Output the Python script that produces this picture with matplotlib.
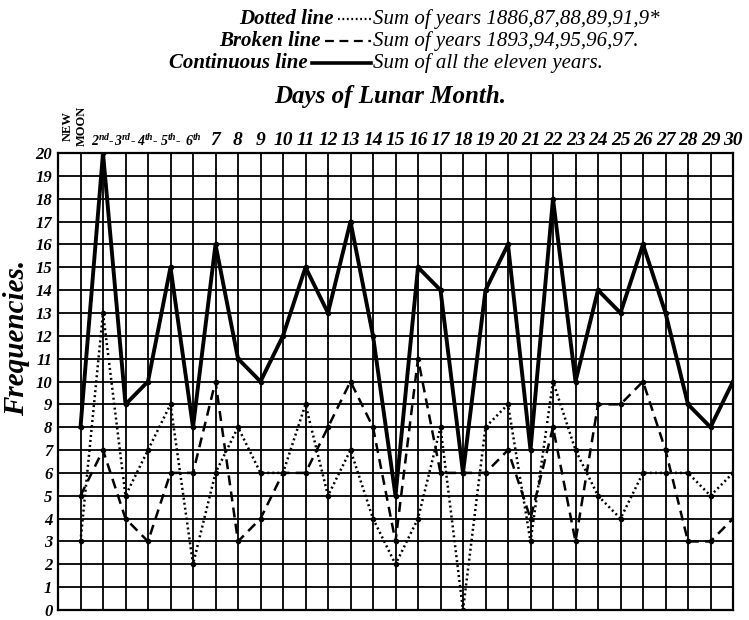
import matplotlib.pyplot as plt
from matplotlib.lines import Line2D

# Days of the lunar month (1 = New Moon)
days = list(range(1, 31))

# Sum of years 1886,87,88,89,91,92
dotted = [3, 13, 5, 7, 9, 2, 6, 8, 6, 6, 9, 5, 7, 4, 2,
          4, 8, 0, 8, 9, 3, 10, 7, 5, 4, 6, 6, 6, 5, 6]
# Sum of years 1893,94,95,96,97
broken = [5, 7, 4, 3, 6, 6, 10, 3, 4, 6, 6, 8, 10, 8, 3,
          11, 6, 6, 6, 7, 4, 8, 3, 9, 9, 10, 7, 3, 3, 4]
# Sum of all the eleven years
continuous = [8, 20, 9, 10, 15, 8, 16, 11, 10, 12, 15, 13, 17, 12, 5,
              15, 14, 6, 14, 16, 7, 18, 10, 14, 13, 16, 13, 9, 8, 10]

day_labels = ["", r"2$^{nd}$-", r"3$^{rd}$-", r"4$^{th}$-", r"5$^{th}$-", r"6$^{th}$"] + \
    [str(d) for d in range(7, 31)]
freq_ticks = list(range(0, 21))

plt.rcParams['font.family'] = 'Liberation Serif'
plt.rcParams['mathtext.fontset'] = 'custom'
plt.rcParams['mathtext.rm'] = 'Liberation Serif:italic:bold'
plt.rcParams['mathtext.it'] = 'Liberation Serif:italic:bold'

fig = plt.figure(figsize=(7.49, 6.2), dpi=100)
ax = fig.add_axes([58 / 749, 1 - 610 / 620, 675 / 749, 457 / 620])

ax.set_xlim(0, 30)
ax.set_ylim(0, 20)
ax.set_yticks(freq_ticks)
ax.grid(True, color='black', lw=1.3)
ax.set_axisbelow(True)
for sp in ax.spines.values():
    sp.set_linewidth(1.6)

# the three series
ax.plot(days, continuous, color='black', lw=2.8, marker='o', ms=3, zorder=5)
ax.plot(days, broken, color='black', lw=1.8, ls=(0, (4, 2.5)), marker='o', ms=3, zorder=4)
ax.plot(days, dotted, color='black', lw=1.8, ls=(0, (0.8, 1.2)), marker='o', ms=3, zorder=4)

# top axis labels
ax.xaxis.tick_top()
ax.set_xticks(days)
ax.set_xticklabels(day_labels, fontsize=14, style='italic', weight='bold')
for lbl in ax.get_xticklabels()[1:6]:
    lbl.set_fontsize(10)
ax.tick_params(axis='x', length=0, pad=3)
ax.text(0.75, 20.3, "NEW\nMOON", rotation=90, ha='center', va='bottom', fontsize=9,
        weight='bold', linespacing=1.3)

ax.set_yticklabels([str(v) for v in freq_ticks], fontsize=12, style='italic', weight='bold')
ax.tick_params(axis='y', length=0, pad=4)

fig.text(17 / 749, 1 - 338 / 620, "Frequencies.", rotation=90, ha='center', va='center',
         fontsize=21, style='italic', weight='bold')
fig.text(390 / 749, 1 - 97 / 620, "Days of Lunar Month.", ha='center', va='center',
         fontsize=18, style='italic', weight='bold')

# key at the top
key = [
    ("Dotted line", (0, (0.8, 1.2)), 1.6, 338, "Sum of years 1886,87,88,89,91,9*"),
    ("Broken line", (0, (4, 2.5)), 1.6, 325, "Sum of years 1893,94,95,96,97."),
    ("Continuous line", '-', 2.6, 312, "Sum of all the eleven years."),
]
for i, (name, ls, lw, x0, desc) in enumerate(key):
    yy = 1 - (19 + 22 * i) / 620
    fig.text((x0 - 4) / 749, yy, name, ha='right', va='center', fontsize=15,
             style='italic', weight='bold')
    fig.add_artist(Line2D([x0 / 749, 371 / 749], [yy, yy], color='black', lw=lw, ls=ls))
    fig.text(373 / 749, yy, desc, ha='left', va='center', fontsize=15, style='italic')

fig.savefig("out.png", dpi=100)
